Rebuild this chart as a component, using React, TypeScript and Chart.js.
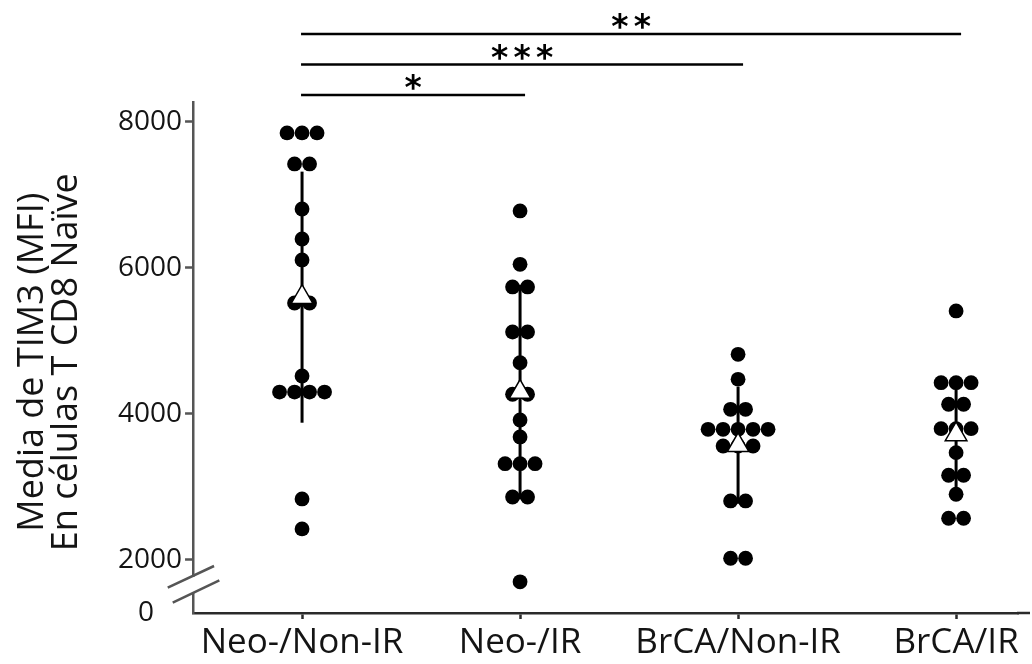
import { useEffect, useRef } from 'react';
import { Chart, registerables } from 'chart.js';

Chart.register(...registerables);

// ---- data ----
const categories = ['Neo-/Non-IR', 'Neo-/IR', 'BrCA/Non-IR', 'BrCA/IR'];

const neoNonIR = [7850, 7850, 7850, 7425, 7425, 6808, 6397, 6110, 5520, 5520, 4520, 4300, 4300, 4300, 4300, 2836, 2425];
const neoIR = [6781, 6050, 5740, 5740, 5123, 5123, 4703, 4270, 4270, 3917, 3685, 3319, 3319, 3319, 2862, 2862, 1700];
const brcaNonIR = [4817, 4475, 4064, 4064, 3790, 3790, 3790, 3790, 3790, 3561, 3561, 3561, 2808, 2808, 2023, 2023];
const brcaIR = [5411, 4429, 4429, 4429, 4133, 4133, 3798, 3798, 3798, 3470, 3160, 3160, 2900, 2571, 2571];

const groupMeans = [5600, 4300, 3570, 3720];
const groupSDs = [1720, 1470, 800, 780];

const yTickValues = [2000, 4000, 6000, 8000];
const yBreakLabel = '0';
const yTitle = ['Media de TIM3 (MFI) ', 'En células T CD8 Naïve '];

const sigFrom = [0, 0, 0];
const sigTo = [1, 2, 3];
const sigLabels = ['*', '***', '**'];

// ---- layout constants ----
const Y_MIN = 1273;
const Y_MAX = 8274;
const DOT_STEP = 0.0688;
const STAR_STEP = 22.5;
const TEXT = '#141414';
const Y_AXIS = '#555555';
const X_AXIS = '#2a2a2a';

function swarm(values: number[], gi: number) {
  const counts = new Map<number, number>();
  values.forEach((v) => counts.set(v, (counts.get(v) || 0) + 1));
  const seen = new Map<number, number>();
  return values.map((v) => {
    const n = counts.get(v) || 1;
    const k = seen.get(v) || 0;
    seen.set(v, k + 1);
    return { x: gi + (k - (n - 1) / 2) * DOT_STEP, y: v };
  });
}

const decorations = {
  id: 'decorations',
  afterDraw(chart: any) {
    const { ctx, chartArea, scales } = chart;
    const xs = scales.x;
    const ax = chartArea.left;
    const b = chartArea.bottom;
    ctx.save();
    // extend x axis line to the right edge
    ctx.strokeStyle = X_AXIS;
    ctx.lineWidth = 2.5;
    ctx.beginPath();
    ctx.moveTo(chartArea.right - 1, b);
    ctx.lineTo(chart.width - 2, b);
    ctx.stroke();

    // axis break
    ctx.fillStyle = '#ffffff';
    ctx.fillRect(ax - 3, b - 36, 6, 15);
    ctx.strokeStyle = Y_AXIS;
    ctx.lineWidth = 2.5;
    ctx.beginPath();
    ctx.moveTo(ax - 25.3, b - 25.3);
    ctx.lineTo(ax + 21, b - 47);
    ctx.moveTo(ax - 20.3, b - 10.3);
    ctx.lineTo(ax + 26.3, b - 32.7);
    ctx.stroke();

    // significance brackets
    ctx.strokeStyle = '#000';
    ctx.fillStyle = '#000';
    ctx.lineWidth = 2.5;
    ctx.font = 'bold 33px "DejaVu Sans"';
    ctx.textAlign = 'center';
    ctx.textBaseline = 'alphabetic';
    sigLabels.forEach((label, i) => {
      const lineY = chartArea.top - 7 - 30.5 * i;
      const x1 = xs.getPixelForValue(sigFrom[i]) - 1;
      const x2 = xs.getPixelForValue(sigTo[i]) + 5;
      ctx.beginPath();
      ctx.moveTo(x1, lineY);
      ctx.lineTo(x2, lineY);
      ctx.stroke();
      const chars = label.split('');
      const cx = (x1 + x2) / 2;
      chars.forEach((ch, k) => {
        const m = ctx.measureText(ch);
        const desc = m.actualBoundingBoxDescent || 0;
        ctx.fillText(ch, cx + (k - (chars.length - 1) / 2) * STAR_STEP, lineY - 5 - desc);
      });
    });
    ctx.restore();
  },
};

export default function App() {
  const ref = useRef<HTMLCanvasElement | null>(null);

  useEffect(() => {
    document.body.style.margin = '0';
    const canvas = ref.current;
    if (!canvas) return;
    Chart.defaults.font.family = '"Open Sans", sans-serif';
    Chart.defaults.color = TEXT;

    const groups = [neoNonIR, neoIR, brcaNonIR, brcaIR];
    const dots = groups.flatMap((g, i) => swarm(g, i));

    const sdSets = categories.map((_, i) => ({
      type: 'line' as const,
      data: [
        { x: i, y: groupMeans[i] - groupSDs[i] },
        { x: i, y: groupMeans[i] + groupSDs[i] },
      ],
      showLine: true,
      borderColor: '#000',
      borderWidth: 3,
      pointRadius: 0,
      order: 3,
    }));

    const chart = new Chart(canvas, {
      type: 'scatter',
      data: {
        datasets: [
          ...sdSets,
          {
            type: 'scatter',
            data: dots,
            backgroundColor: '#000',
            borderWidth: 0,
            pointRadius: 7.4,
            order: 2,
          },
          {
            type: 'scatter',
            data: groupMeans.map((m, i) => ({ x: i, y: m })),
            pointStyle: 'triangle',
            pointRadius: 12.5,
            backgroundColor: '#fff',
            borderColor: '#000',
            borderWidth: 1.5,
            order: 1,
          },
        ] as any,
      },
      options: {
        animation: false,
        responsive: true,
        maintainAspectRatio: false,
        layout: { padding: { top: 102, right: 2, bottom: -3, left: 0 } },
        plugins: { legend: { display: false }, tooltip: { enabled: false } },
        scales: {
          x: {
            type: 'linear',
            min: -0.5,
            max: 3.284,
            afterBuildTicks: (s: any) => {
              s.ticks = categories.map((_, i) => ({ value: i }));
            },
            ticks: {
              callback: (v: any) => categories[v] ?? '',
              font: { size: 35, lineHeight: 1 },
              color: TEXT,
              padding: 6.5,
              maxRotation: 0,
              autoSkip: false,
            },
            grid: { drawOnChartArea: false, drawTicks: true, tickLength: 6, tickColor: X_AXIS, tickWidth: 2.5 },
            border: { color: X_AXIS, width: 2.5 },
          },
          y: {
            type: 'linear',
            min: Y_MIN,
            max: Y_MAX,
            afterBuildTicks: (s: any) => {
              s.ticks = [{ value: Y_MIN }, ...yTickValues.map((v) => ({ value: v }))];
            },
            ticks: {
              callback: (v: any) => (v === Y_MIN ? yBreakLabel + '\u2002\u2002' : String(v)),
              font: { size: 28 },
              color: TEXT,
              padding: 3,
            },
            grid: {
              drawOnChartArea: false,
              drawTicks: true,
              tickLength: 8,
              tickWidth: 2.5,
              tickColor: (c: any) => (c.tick && c.tick.value === Y_MIN ? 'rgba(0,0,0,0)' : Y_AXIS),
            },
            border: { color: Y_AXIS, width: 2.5 },
            title: {
              display: true,
              text: yTitle,
              font: { size: 36, lineHeight: '34px' },
              color: TEXT,
              padding: { top: 16, bottom: 31 },
            },
          },
        },
      },
      plugins: [decorations],
    });
    return () => chart.destroy();
  }, []);

  return (
    <div style={{ position: 'relative', width: 1032, height: 664 }}>
      <canvas ref={ref} />
    </div>
  );
}
